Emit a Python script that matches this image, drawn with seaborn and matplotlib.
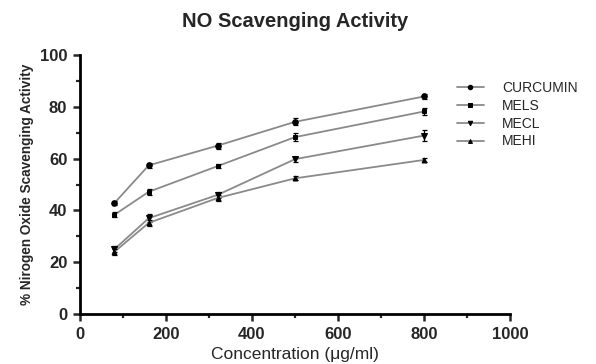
import matplotlib

matplotlib.use("Agg")
import matplotlib.pyplot as plt
import numpy as np
import pandas as pd
import seaborn as sns
from matplotlib.ticker import MultipleLocator

# concentrations (ug/ml) and % NO scavenging, mean and error
conc = [80, 160, 320, 500, 800]
curcumin = [42.8, 57.4, 65.0, 74.2, 84.0]
curcumin_err = [0.8, 1.0, 1.2, 1.3, 0.9]
mels = [38.3, 47.2, 57.1, 68.3, 78.2]
mels_err = [1.0, 1.2, 0.9, 1.4, 1.3]
mecl = [25.0, 37.0, 46.0, 59.8, 68.9]
mecl_err = [1.2, 1.6, 1.3, 1.0, 2.0]
mehi = [24.0, 35.2, 44.8, 52.4, 59.5]
mehi_err = [1.0, 1.3, 1.0, 0.8, 0.9]

series = {
    "CURCUMIN": (curcumin, curcumin_err, "o", 4),
    "MELS": (mels, mels_err, "s", 3),
    "MECL": (mecl, mecl_err, "v", 4),
    "MEHI": (mehi, mehi_err, "^", 3.5),
}

sns.set_style("ticks")
plt.rcParams["font.family"] = ["Liberation Sans", "DejaVu Sans"]

fig = plt.figure(figsize=(5.96, 3.64), dpi=100)
ax = fig.add_axes([0.134, 0.137, 0.722, 0.712])

for name, (vals, err, mk, ms) in series.items():
    df = pd.DataFrame({"conc": conc, "val": vals})
    sns.lineplot(data=df, x="conc", y="val", ax=ax, color="#8a8a8a", lw=1.3,
                 marker=mk, markersize=ms, markerfacecolor="black",
                 markeredgecolor="black", label=name)
    ax.errorbar(conc, vals, yerr=err, fmt="none", ecolor="black",
                elinewidth=0.9, capsize=1.8, capthick=0.9)

ax.set_xlim(0, 1000)
ax.set_ylim(0, 100)
ax.xaxis.set_major_locator(MultipleLocator(200))
ax.xaxis.set_minor_locator(MultipleLocator(100))
ax.yaxis.set_major_locator(MultipleLocator(20))
ax.yaxis.set_minor_locator(MultipleLocator(10))
ax.tick_params(which="major", length=5, width=1.8, labelsize=12, pad=4)
ax.tick_params(which="minor", length=3, width=1.6)
for lbl in ax.get_xticklabels() + ax.get_yticklabels():
    lbl.set_fontweight("bold")
sns.despine(ax=ax)
for s in ["left", "bottom"]:
    ax.spines[s].set_linewidth(2)
    ax.spines[s].set_color("black")

ax.set_xlabel("Concentration (\u03bcg/ml)", fontsize=12.5, labelpad=4)
ax.set_ylabel("% Nirogen Oxide Scavenging Activity", fontsize=9.8,
              fontweight="bold", labelpad=4)
ax.set_title("NO Scavenging Activity", fontsize=14.5, fontweight="bold", pad=20)

ax.legend(loc="upper left", bbox_to_anchor=(0.766, 0.778),
          bbox_transform=fig.transFigure, frameon=False, fontsize=10,
          handlelength=2.0, labelspacing=0.28, handletextpad=1.3,
          borderpad=0, borderaxespad=0, markerscale=0.8)

fig.savefig("out.png", dpi=100)
